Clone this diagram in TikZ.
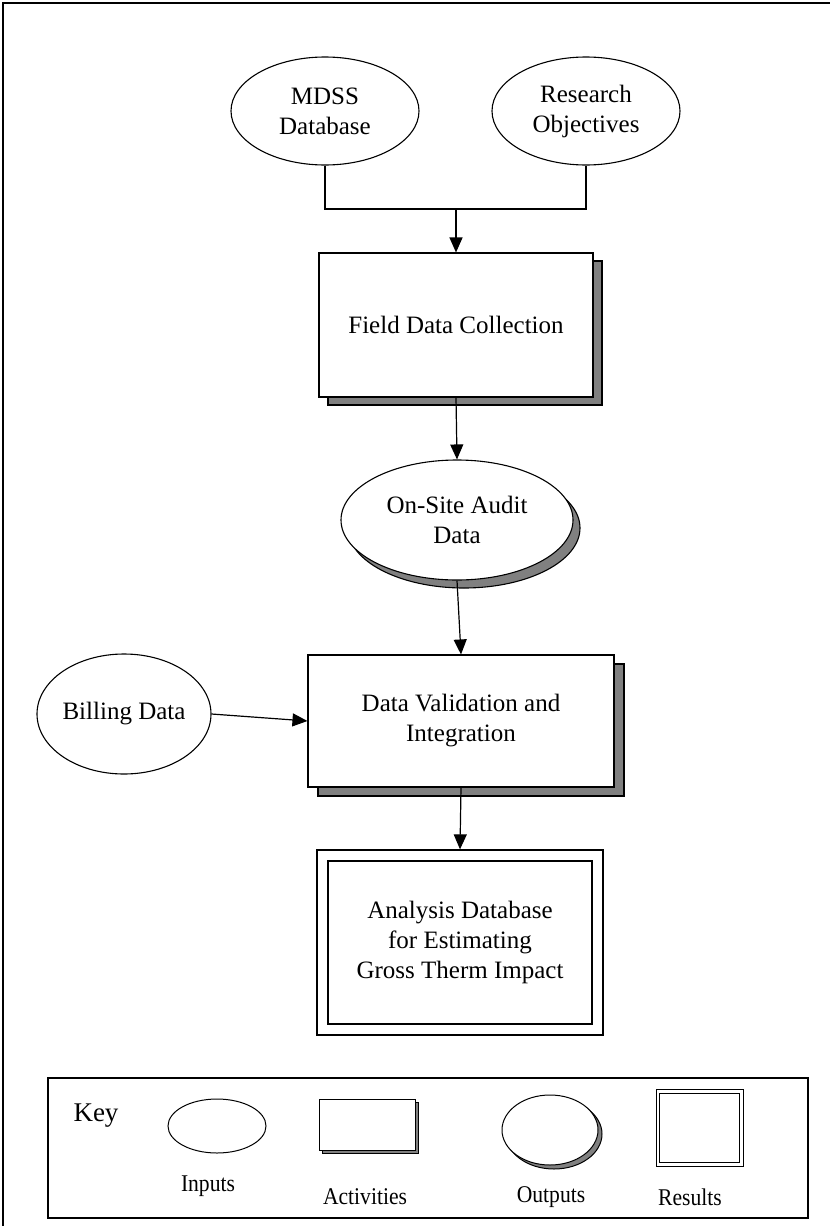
\documentclass[tikz,border=0pt]{standalone}
\usepackage{fontspec}
\setmainfont{Liberation Serif}
\usetikzlibrary{shapes.geometric,arrows.meta}
\definecolor{shade}{gray}{0.5}
\tikzset{
  inputnode/.style={ellipse, draw, fill=white, line width=1.1pt, inner sep=0pt, align=center},
  actnode/.style={rectangle, draw, fill=white, line width=1.1pt, inner sep=0pt, align=center},
  shadownode/.style={draw, fill=shade, line width=1.1pt, inner sep=0pt},
  resnode/.style={rectangle, draw, fill=white, line width=1.3pt, inner sep=0pt, align=center},
  arr/.style={-{Triangle[length=15pt,width=13pt]}, line width=1.2pt},
  link/.style={line width=1.2pt},
  keylabel/.style={inner sep=0pt},
}
\newcommand{\keyfont}[1]{\scalebox{0.9}[1]{\fontsize{24}{28}\selectfont #1}}
\begin{document}
\begin{tikzpicture}[x=1pt, y=-1pt, font=\fontsize{25}{30}\selectfont]
\useasboundingbox (0,0) rectangle (830,1226);

% frame (top and left edges lie inside the page)
\draw[line width=1.5pt] (3,1226) -- (3,3) -- (830,3);

% inputs
\node[inputnode, minimum width=188pt, minimum height=108pt] (mdss) at (325,111) {MDSS\\Database};
\node[inputnode, minimum width=188pt, minimum height=108pt] (research) at (586,111) {Research\\Objectives};

% field data collection
\node[shadownode, rectangle, minimum width=274pt, minimum height=144pt] (fdcsh) at (465,333) {};
\node[actnode, minimum width=274pt, minimum height=144pt] (fdc) at (456,325) {Field Data Collection};

% on-site audit data
\node[shadownode, ellipse, minimum width=232pt, minimum height=120pt] (auditsh) at (464,528) {};
\node[inputnode, minimum width=232pt, minimum height=120pt] (audit) at (457,520) {On-Site Audit\\Data};

% billing data
\node[inputnode, minimum width=174pt, minimum height=120pt] (billing) at (124,714) {Billing Data};

% data validation and integration
\node[shadownode, rectangle, minimum width=306pt, minimum height=132pt] (dvish) at (471,730) {};
\node[actnode, minimum width=306pt, minimum height=132pt] (dvi) at (461,721) {Data Validation and\\Integration};

% analysis database
\node[resnode, minimum width=286pt, minimum height=185pt] (resout) at (460,942.5) {};
\node[resnode, minimum width=264pt, minimum height=163pt] (res) at (460,942.5) {Analysis Database\\for Estimating\\Gross Therm Impact};

% connectors
\coordinate (join) at (456,209);
\draw[link] (mdss.south) |- (join) -| (research.south);
\draw[arr] (join) -- (fdc.north);
\draw[arr] (fdc.south) -- (audit.north);
\draw[arr] (audit.south) -- (dvi.north);
\draw[arr] (billing.east) -- (dvi.west);
\draw[arr] (dvi.south) -- (resout.north);

% key
\node[draw, line width=1.3pt, minimum width=760pt, minimum height=140pt, inner sep=0pt] (keybox) at (428,1148) {};
\node[keylabel, font=\fontsize{27}{30}\selectfont] (keytitle) at (96,1116) {Key};
\node[inputnode, line width=1pt, minimum width=98pt, minimum height=54pt] (kin) at (217,1126) {};
\node[shadownode, rectangle, line width=1pt, minimum width=96pt, minimum height=51pt] (kactsh) at (370,1128) {};
\node[actnode, line width=1pt, minimum width=96pt, minimum height=51pt] (kact) at (367,1124.5) {};
\node[shadownode, ellipse, line width=1pt, minimum width=96pt, minimum height=70pt] (koutsh) at (554,1134) {};
\node[inputnode, line width=1pt, minimum width=96pt, minimum height=70pt] (kout) at (550,1130) {};
\node[resnode, line width=1pt, minimum width=87pt, minimum height=77pt] (kresout) at (699.5,1127.5) {};
\node[resnode, line width=1pt, minimum width=80pt, minimum height=69pt] (kres) at (699.5,1127.5) {};
\node[keylabel] (lin) at (208,1186) {\keyfont{Inputs}};
\node[keylabel] (lact) at (365,1197) {\keyfont{Activities}};
\node[keylabel] (lout) at (551,1197) {\keyfont{Outputs}};
\node[keylabel] (lres) at (690,1197) {\keyfont{Results}};
\end{tikzpicture}
\end{document}
